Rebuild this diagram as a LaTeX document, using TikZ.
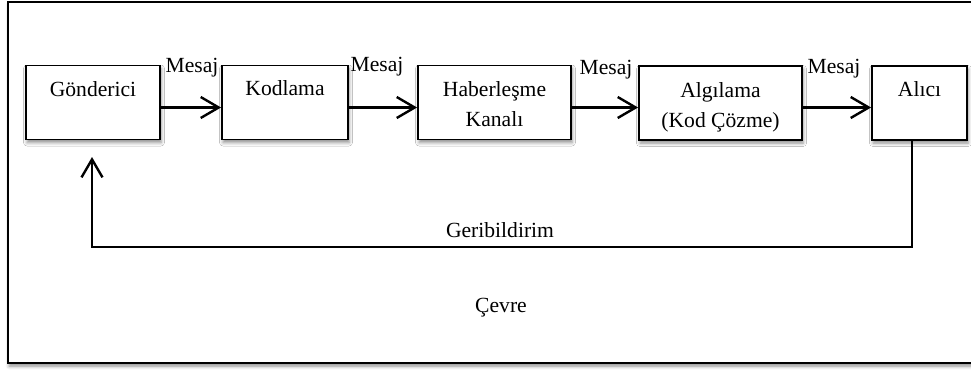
\documentclass[tikz,border=0pt]{standalone}
\usepackage{fontspec}
\setmainfont{Liberation Serif}
\usetikzlibrary{arrows.meta,shadows.blur}
\begin{document}
\begin{tikzpicture}[x=1pt,y=-1pt,
  font=\fontsize{21.6}{26}\selectfont,
  soft/.style={blur shadow={shadow xshift=1pt,shadow yshift=-3pt,shadow blur radius=3.5pt,shadow opacity=45}},
  box/.style={draw=black,line width=1.8pt,fill=white,minimum width=#1,minimum height=74pt,inner sep=0pt,soft},
  txt/.style={anchor=base,inner sep=0pt},
  flow/.style={line width=2.4pt,-{Straight Barb[length=18pt,width=21pt,line width=2.4pt]}},
  fb/.style={line width=1.8pt,-{Straight Barb[length=18pt,width=21pt,line width=2.4pt]}}]

\clip (0,0) rectangle (971,372);

% surrounding environment
\path[draw=black,line width=1.8pt,fill=white,soft] (8,2) rectangle (995,363);

% blocks of the communication chain
\node[box=134pt] (g) at (93,102.5) {};
\node[box=126pt] (k) at (285,102.5) {};
\node[box=153pt] (h) at (494.5,102.5) {};
\node[box=163pt] (a) at (720.5,103) {};
\node[box=95pt]  (r) at (919.5,103) {};

\node[txt] (gt)  at (93,96)    {Gönderici};
\node[txt] (kt)  at (285,95)   {Kodlama};
\node[txt] (ht1) at (494.5,96) {Haberleşme};
\node[txt] (ht2) at (494.5,126){Kanalı};
\node[txt] (at1) at (720.5,97) {Algılama};
\node[txt] (at2) at (720.5,127){(Kod Çözme)};
\node[txt] (rt)  at (919.5,96) {Alıcı};

% message flow
\draw[flow] ([yshift=-5pt]g.east) -- ([yshift=-5pt]k.west);
\draw[flow] ([yshift=-5pt]k.east) -- ([yshift=-5pt]h.west);
\draw[flow] ([yshift=-5pt]h.east) -- ([yshift=-4.5pt]a.west);
\draw[flow] ([yshift=-4.5pt]a.east) -- ([yshift=-4.5pt]r.west);

\node[txt] (m1) at (192,72) {Mesaj};
\node[txt] (m2) at (377,71) {Mesaj};
\node[txt] (m3) at (606,74) {Mesaj};
\node[txt] (m4) at (834,73) {Mesaj};

% feedback loop
\coordinate (fbr) at (912,247);
\coordinate (fbl) at (92,247);
\coordinate (fbt) at (92,157);
\draw[fb] (r.south -| fbr) -- (fbr) -- (fbl) -- (fbt);

\node[txt] (fbt1) at (500,237) {Geribildirim};
\node[txt] (env)  at (501,312) {Çevre};
\end{tikzpicture}
\end{document}
